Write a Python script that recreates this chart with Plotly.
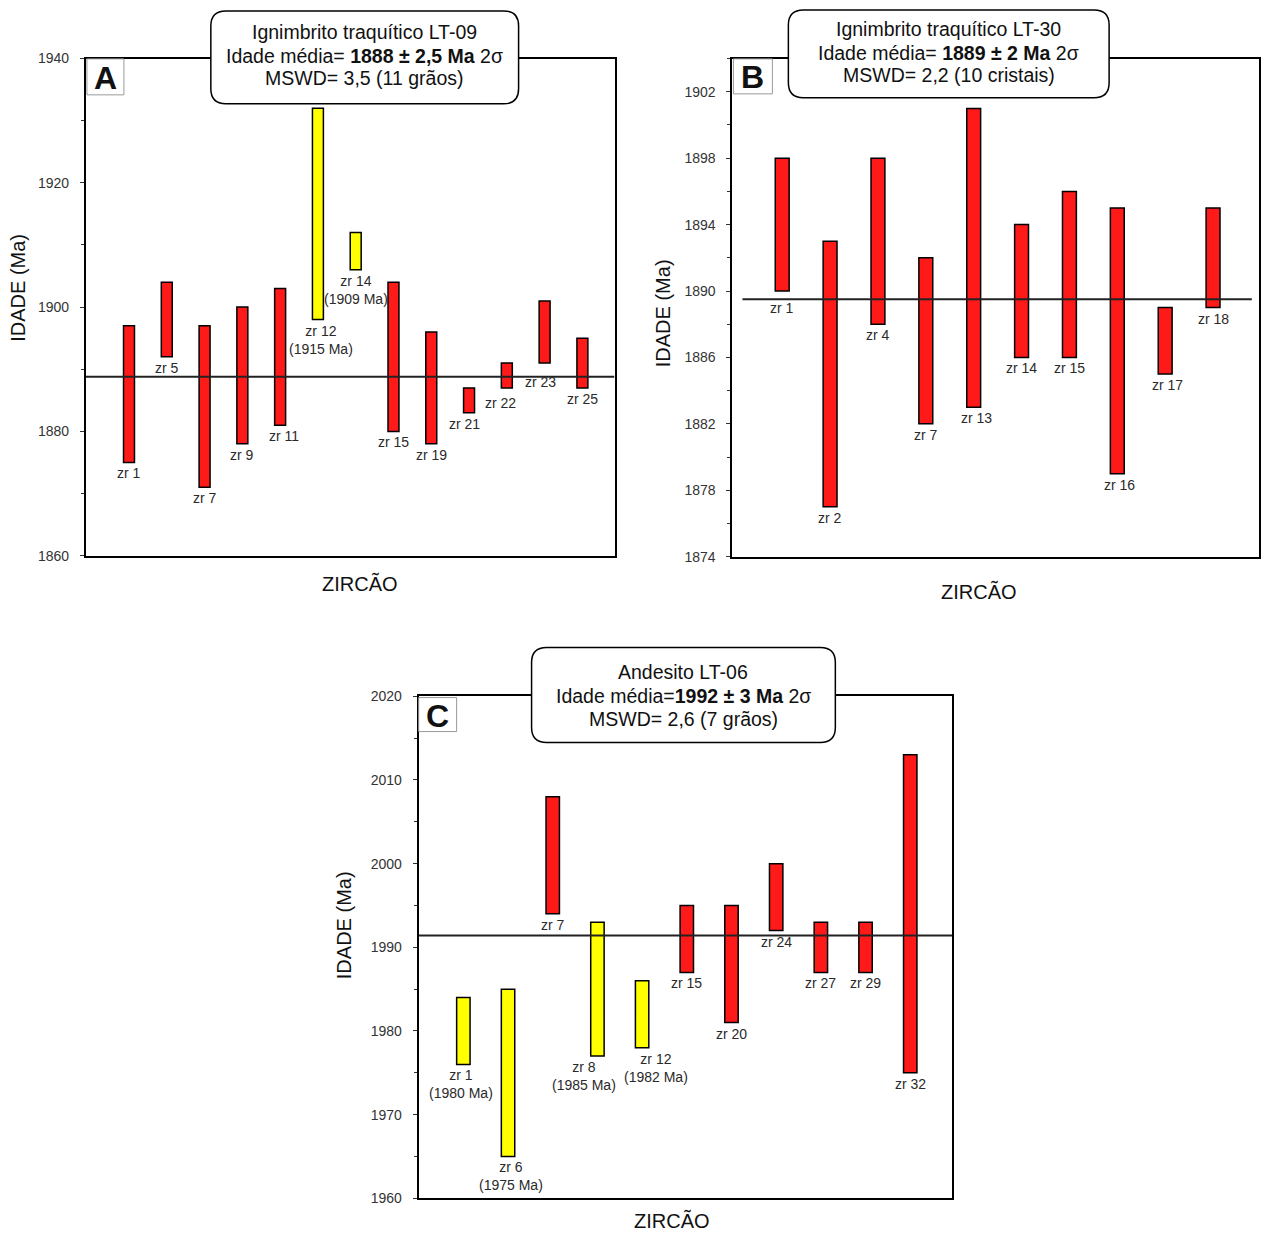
import plotly.graph_objects as go

W, H = 1261, 1234

# ---------------- data ----------------
A_labels = ["zr 1", "zr 5", "zr 7", "zr 9", "zr 11", "zr 12", "zr 14", "zr 15", "zr 19", "zr 21", "zr 22", "zr 23", "zr 25"]
A_top = [1897, 1904, 1897, 1900, 1903, 1932, 1912, 1904, 1896, 1887, 1891, 1901, 1895]
A_bottom = [1875, 1892, 1871, 1878, 1881, 1898, 1906, 1880, 1878, 1883, 1887, 1891, 1887]
A_excluded_age = [None, None, None, None, None, "1915 Ma", "1909 Ma", None, None, None, None, None, None]
A_mean = 1888.8

B_labels = ["zr 1", "zr 2", "zr 4", "zr 7", "zr 13", "zr 14", "zr 15", "zr 16", "zr 17", "zr 18"]
B_top = [1898, 1893, 1898, 1892, 1901, 1894, 1896, 1895, 1889, 1895]
B_bottom = [1890, 1877, 1888, 1882, 1883, 1886, 1886, 1879, 1885, 1889]
B_excluded_age = [None] * 10
B_mean = 1889.5

C_labels = ["zr 1", "zr 6", "zr 7", "zr 8", "zr 12", "zr 15", "zr 20", "zr 24", "zr 27", "zr 29", "zr 32"]
C_top = [1984, 1985, 2008, 1993, 1986, 1995, 1995, 2000, 1993, 1993, 2013]
C_bottom = [1976, 1965, 1994, 1977, 1978, 1987, 1981, 1992, 1987, 1987, 1975]
C_excluded_age = ["1980 Ma", "1975 Ma", None, "1985 Ma", "1982 Ma", None, None, None, None, None, None]
C_mean = 1991.4

A_box = ["Ignimbrito traquítico LT-09", "Idade média= <b>1888 ± 2,5 Ma</b> 2σ", "MSWD= 3,5 (11 grãos)"]
B_box = ["Ignimbrito traquítico LT-30", "Idade média= <b>1889 ± 2 Ma</b> 2σ", "MSWD= 2,2 (10 cristais)"]
C_box = ["Andesito LT-06", "Idade média=<b>1992 ± 3 Ma</b> 2σ", "MSWD= 2,6 (7 grãos)"]

RED = "#ff1a1a"
YELLOW = "#ffff00"
FONT = "Arial, Liberation Sans, sans-serif"
TXT = "#2a2a2a"

# vertical correction observed in the rendering
YA, YB = 0.9875, 7.1


def px(x):
    return x / W


def py(y):
    return 1 - ((y - YB) / YA) / H


panels = [
    dict(name="A", labels=A_labels, top=A_top, bot=A_bottom, exc=A_excluded_age, mean=A_mean,
         xd=(86, 615), yd=(57.7, 555), xr=[-0.14, 13.85], yr=[1860, 1940], dtick=20, minor=10,
         bw=0.29, lfs=14, box=A_box, boxpx=(211, 10, 519, 103), boxlines=(31, 55, 77),
         letterbox=(87, 58, 124, 94), ytitle=(18, 287), xtitle=(360, 583),
         xshift={"zr 11": 4, "zr 12": 3, "zr 21": -5, "zr 22": -6, "zr 23": -4},
         yshift={"zr 23": -8, "zr 22": -4}, line=None),
    dict(name="B", labels=B_labels, top=B_top, bot=B_bottom, exc=B_excluded_age, mean=B_mean,
         xd=(733, 1260), yd=(57.7, 556), xr=[-0.04, 10.96], yr=[1874, 1904], dtick=4, minor=2,
         bw=0.29, lfs=14, box=B_box, boxpx=(789, 9, 1110, 97), boxlines=(28, 52, 74),
         letterbox=(734, 58, 773, 93), ytitle=(663, 312), xtitle=(980, 591),
         xshift={"zr 13": 3, "zr 16": 2, "zr 17": 2}, yshift={"zr 1": -6}, line=(0.17, 10.81)),
    dict(name="C", labels=C_labels, top=C_top, bot=C_bottom, exc=C_excluded_age, mean=C_mean,
         xd=(419, 953), yd=(695.7, 1198), xr=[0.0, 11.94], yr=[1960, 2020], dtick=10, minor=5,
         bw=0.3, lfs=14, box=C_box, boxpx=(532, 647, 836, 742), boxlines=(671, 695, 718),
         letterbox=(419, 697, 457, 731), ytitle=(345, 925), xtitle=(673, 1220),
         xshift={"zr 8": -13, "zr 12": 14, "zr 6": 3, "zr 1": -2}, yshift={}, line=None),
]

fig = go.Figure()
shapes = []
annotations = []
layout = {}


def rounded(x0, y0, x1, y1, r):
    def P(x, y):
        return f"{px(x):.5f},{py(y):.5f}"
    return (f"M {P(x0 + r, y0)} L {P(x1 - r, y0)} Q {P(x1, y0)} {P(x1, y0 + r)} "
            f"L {P(x1, y1 - r)} Q {P(x1, y1)} {P(x1 - r, y1)} "
            f"L {P(x0 + r, y1)} Q {P(x0, y1)} {P(x0, y1 - r)} "
            f"L {P(x0, y0 + r)} Q {P(x0, y0)} {P(x0 + r, y0)} Z")


for i, p in enumerate(panels):
    suf = "" if i == 0 else str(i + 1)
    xa, ya = "x" + suf, "y" + suf
    n = len(p["labels"])
    xs = list(range(1, n + 1))
    colors = [YELLOW if e else RED for e in p["exc"]]
    fig.add_trace(go.Bar(
        x=xs, y=[t - b for t, b in zip(p["top"], p["bot"])], base=p["bot"],
        width=p["bw"], marker=dict(color=colors, line=dict(color="black", width=1.5)),
        xaxis=xa, yaxis=ya, showlegend=False, hoverinfo="skip"))

    layout["xaxis" + suf] = dict(
        domain=[px(p["xd"][0]), px(p["xd"][1])], range=p["xr"], anchor=ya,
        showline=True, linecolor="black", linewidth=2, mirror=True,
        showticklabels=False, ticks="", showgrid=False, zeroline=False, fixedrange=True)
    layout["yaxis" + suf] = dict(
        domain=[py(p["yd"][1]), py(p["yd"][0])], range=p["yr"], anchor=xa,
        showline=True, linecolor="black", linewidth=2, mirror=True,
        ticks="outside", ticklen=4, tickwidth=1, tickcolor="#333",
        dtick=p["dtick"], tick0=p["yr"][0],
        minor=dict(dtick=p["minor"], ticks="outside", ticklen=3, tickcolor="#333", showgrid=False),
        tickfont=dict(family=FONT, size=14, color="#333"), ticklabelstandoff=8,
        showgrid=False, zeroline=False, fixedrange=True)

    lx = p["line"] if p["line"] else p["xr"]
    shapes.append(dict(type="line", xref=xa, yref=ya, x0=lx[0], x1=lx[1], y0=p["mean"], y1=p["mean"],
                       line=dict(color="#222", width=2), layer="above"))

    for j, lab in enumerate(p["labels"]):
        txt = lab if not p["exc"][j] else f"{lab}<br>({p['exc'][j]})"
        annotations.append(dict(
            x=xs[j], y=p["bot"][j], xref=xa, yref=ya, text=txt, showarrow=False,
            xanchor="center", yanchor="top", yshift=-1 + p["yshift"].get(lab, 0),
            xshift=p["xshift"].get(lab, 0),
            font=dict(family=FONT, size=p["lfs"], color=TXT), align="center"))

    bx0, by0, bx1, by1 = p["boxpx"]
    shapes.append(dict(type="path", xref="paper", yref="paper", path=rounded(bx0, by0, bx1, by1, 15),
                       fillcolor="white", line=dict(color="black", width=1.5), layer="above"))
    for line_txt, ly in zip(p["box"], p["boxlines"]):
        annotations.append(dict(
            x=px((bx0 + bx1) / 2), y=py(ly), xref="paper", yref="paper",
            text=line_txt, showarrow=False, xanchor="center", yanchor="middle",
            font=dict(family=FONT, size=19.5, color="#111")))

    lx0, ly0, lx1, ly1 = p["letterbox"]
    shapes.append(dict(type="rect", xref="paper", yref="paper", x0=px(lx0), x1=px(lx1),
                       y0=py(ly1), y1=py(ly0), line=dict(color="#999", width=1),
                       fillcolor="rgba(0,0,0,0)", layer="above"))
    annotations.append(dict(
        x=px((lx0 + lx1) / 2), y=py((ly0 + ly1) / 2 + 1), xref="paper", yref="paper",
        text=f"<b>{p['name']}</b>", showarrow=False, xanchor="center", yanchor="middle",
        font=dict(family=FONT, size=32, color="#111")))

    annotations.append(dict(
        x=px(p["ytitle"][0]), y=py(p["ytitle"][1]), xref="paper", yref="paper",
        text="IDADE (Ma)", textangle=-90, showarrow=False, xanchor="center", yanchor="middle",
        font=dict(family=FONT, size=20, color="#111")))
    annotations.append(dict(
        x=px(p["xtitle"][0]), y=py(p["xtitle"][1]), xref="paper", yref="paper",
        text="ZIRCÃO", showarrow=False, xanchor="center", yanchor="middle",
        font=dict(family=FONT, size=20, color="#111")))

fig.update_layout(
    width=W, height=H, margin=dict(l=0, r=0, t=0, b=0),
    paper_bgcolor="white", plot_bgcolor="white",
    shapes=shapes, annotations=annotations, showlegend=False, barmode="overlay",
    **layout)

fig.write_html("out.html", config={"displayModeBar": False})
